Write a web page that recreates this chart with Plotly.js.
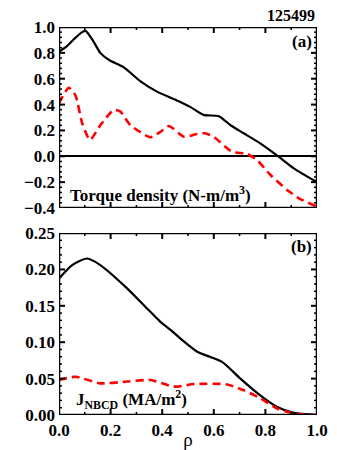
<!DOCTYPE html>
<html><head><meta charset="utf-8">
<script src="https://cdn.plot.ly/plotly-3.0.1.min.js"></script>
<style>body{margin:0;background:#fff}#c{width:337px;height:450px}</style>
</head><body><div id="c"></div>
<script>
// Panel (a): torque density
const rhoTorqueBlack = [0, 0.03, 0.06, 0.09, 0.103, 0.13, 0.16, 0.194, 0.25, 0.316, 0.38, 0.43, 0.47, 0.51, 0.56, 0.62, 0.665, 0.716, 0.78, 0.846, 0.91, 1.0];
const torqueBlack = [0.81, 0.85, 0.91, 0.96, 0.97, 0.90, 0.80, 0.745, 0.69, 0.58, 0.50, 0.455, 0.42, 0.38, 0.32, 0.31, 0.24, 0.178, 0.10, 0.005, -0.093, -0.20];
const rhoTorqueRed = [0, 0.038, 0.064, 0.09, 0.12, 0.16, 0.212, 0.238, 0.277, 0.355, 0.394, 0.426, 0.484, 0.53, 0.565, 0.6, 0.67, 0.73, 0.768, 0.82, 0.884, 0.93, 1.0];
const torqueRed = [0.41, 0.53, 0.47, 0.255, 0.126, 0.24, 0.358, 0.345, 0.24, 0.147, 0.19, 0.234, 0.152, 0.17, 0.178, 0.15, 0.036, 0.018, -0.03, -0.145, -0.26, -0.325, -0.39];
// Panel (b): J_NBCD
const rhoJBlack = [0, 0.051, 0.109, 0.16, 0.264, 0.342, 0.393, 0.432, 0.471, 0.536, 0.632, 0.703, 0.78, 0.846, 0.91, 1.0];
const jBlack = [0.1875, 0.206, 0.215, 0.206, 0.174, 0.146, 0.128, 0.117, 0.105, 0.087, 0.073, 0.050, 0.027, 0.011, 0.003, 0.0];
const rhoJRed = [0, 0.064, 0.16, 0.264, 0.355, 0.432, 0.458, 0.523, 0.652, 0.716, 0.78, 0.846, 0.91, 1.0];
const jRed = [0.048, 0.0525, 0.0435, 0.046, 0.048, 0.040, 0.039, 0.0425, 0.042, 0.034, 0.023, 0.009, 0.002, 0.0];
// Axis ranges and tick steps
const rhoRange = [0, 1];
const torqueRange = [-0.4, 1.0];
const jRange = [0, 0.25];

const W = 337, H = 450, M = {l: 59, r: 20, t: 27, b: 35};
const domA = [0.5335, 1], domB = [0, 0.469];
const plotW = W - M.l - M.r, plotH = H - M.t - M.b;

const F = 'Liberation Serif, Times New Roman, serif';
function bf(size) { return {family: F, size: size, color: '#000', weight: 'bold'}; }

function ln(x, y, xa, ya, color, dash, w) {
  return {x: x, y: y, xaxis: xa, yaxis: ya, type: 'scatter', mode: 'lines',
    line: {color: color, width: w, dash: dash, shape: 'spline', smoothing: 0.6},
    hoverinfo: 'skip', showlegend: false};
}
function steps(r, s) {
  const n = Math.round((r[1] - r[0]) / s), out = [];
  for (let i = 0; i <= n; i++) out.push(+(r[0] + i * s).toFixed(6));
  return out;
}
// frame and inward ticks on all four sides, built from the axis ranges
function decor(xa, ya, xr, yr, hPx, xMaj, xMin, yMaj, yMin) {
  const dx = (xr[1] - xr[0]) / plotW, dy = (yr[1] - yr[0]) / hPx;
  function seg(len, xv, yv) {
    const X = [], Y = [];
    xv.forEach(v => { X.push(v, v, null, v, v, null); Y.push(yr[0], yr[0] + len * dy, null, yr[1], yr[1] - len * dy, null); });
    yv.forEach(v => { X.push(xr[0], xr[0] + len * dx, null, xr[1], xr[1] - len * dx, null); Y.push(v, v, null, v, v, null); });
    return {X, Y};
  }
  const xM = steps(xr, xMaj), yM = steps(yr, yMaj);
  const xm = steps(xr, xMin).filter(v => !xM.some(m => Math.abs(m - v) < 1e-6));
  const ym = steps(yr, yMin).filter(v => !yM.some(m => Math.abs(m - v) < 1e-6));
  const maj = seg(6, xM, yM), mnr = seg(3, xm, ym);
  const base = {xaxis: xa, yaxis: ya, type: 'scatter', mode: 'lines', hoverinfo: 'skip',
    showlegend: false, cliponaxis: false};
  return [
    Object.assign({}, base, {x: mnr.X, y: mnr.Y, line: {color: '#000', width: 1.5}}),
    Object.assign({}, base, {x: maj.X, y: maj.Y, line: {color: '#000', width: 2}}),
    Object.assign({}, base, {x: [xr[0], xr[1], xr[1], xr[0], xr[0]], y: [yr[0], yr[0], yr[1], yr[1], yr[0]],
      line: {color: '#000', width: 2.5}})
  ];
}

const hA = (domA[1] - domA[0]) * plotH, hB = (domB[1] - domB[0]) * plotH;
const data = [
  ln(rhoTorqueBlack, torqueBlack, 'x', 'y', '#000', 'solid', 2.2),
  ln(rhoTorqueRed, torqueRed, 'x', 'y', '#ff0000', '8px,5px', 2.6),
  ln(rhoJBlack, jBlack, 'x2', 'y2', '#000', 'solid', 2.2),
  ln(rhoJRed, jRed, 'x2', 'y2', '#ff0000', '8px,5px', 2.6)
].concat(decor('x', 'y', rhoRange, torqueRange, hA, 0.2, 0.1, 0.2, 0.04))
 .concat(decor('x2', 'y2', rhoRange, jRange, hB, 0.2, 0.1, 0.05, 0.01));

function ax(extra) {
  return Object.assign({showline: false, ticks: '', showgrid: false, zeroline: false,
    tickfont: bf(17), ticklabelstandoff: 3, fixedrange: true}, extra);
}
const layout = {
  width: W, height: H, margin: M,
  paper_bgcolor: '#fff', plot_bgcolor: '#fff', showlegend: false,
  xaxis: ax({domain: [0, 1], range: rhoRange, anchor: 'y', dtick: 0.2, showticklabels: false}),
  yaxis: ax({domain: domA, range: torqueRange, anchor: 'x', dtick: 0.2, tickformat: '.1f',
    zeroline: true, zerolinecolor: '#000', zerolinewidth: 2.2}),
  xaxis2: ax({domain: [0, 1], range: rhoRange, anchor: 'y2', dtick: 0.2, tickformat: '.1f',
    title: {text: 'ρ', font: {family: F, size: 19, color: '#000'}, standoff: 0}}),
  yaxis2: ax({domain: domB, range: jRange, anchor: 'x2', dtick: 0.05, tickformat: '.2f'}),
  annotations: [
    {text: '125499', xref: 'paper', yref: 'paper', x: 1, y: 1, xanchor: 'right', yanchor: 'bottom',
      yshift: 1, showarrow: false, font: bf(16)},
    {text: '(a)', xref: 'x', yref: 'y', x: 0.99, y: 0.98, xanchor: 'right', yanchor: 'top',
      showarrow: false, font: bf(17)},
    {text: '(b)', xref: 'x2', yref: 'y2', x: 0.99, y: 0.247, xanchor: 'right', yanchor: 'top',
      showarrow: false, font: bf(17)},
    {text: 'Torque density (N-m/m<sup>3</sup>)', xref: 'x', yref: 'y', x: 0.035, y: -0.29,
      xanchor: 'left', yanchor: 'middle', showarrow: false, font: bf(17)},
    {text: 'J<sub>NBCD</sub> (MA/m<sup>2</sup>)', xref: 'x2', yref: 'y2', x: 0.06, y: 0.021,
      xanchor: 'left', yanchor: 'middle', showarrow: false, font: bf(17)}
  ]
};
Plotly.newPlot('c', data, layout, {displayModeBar: false});
</script></body></html>
